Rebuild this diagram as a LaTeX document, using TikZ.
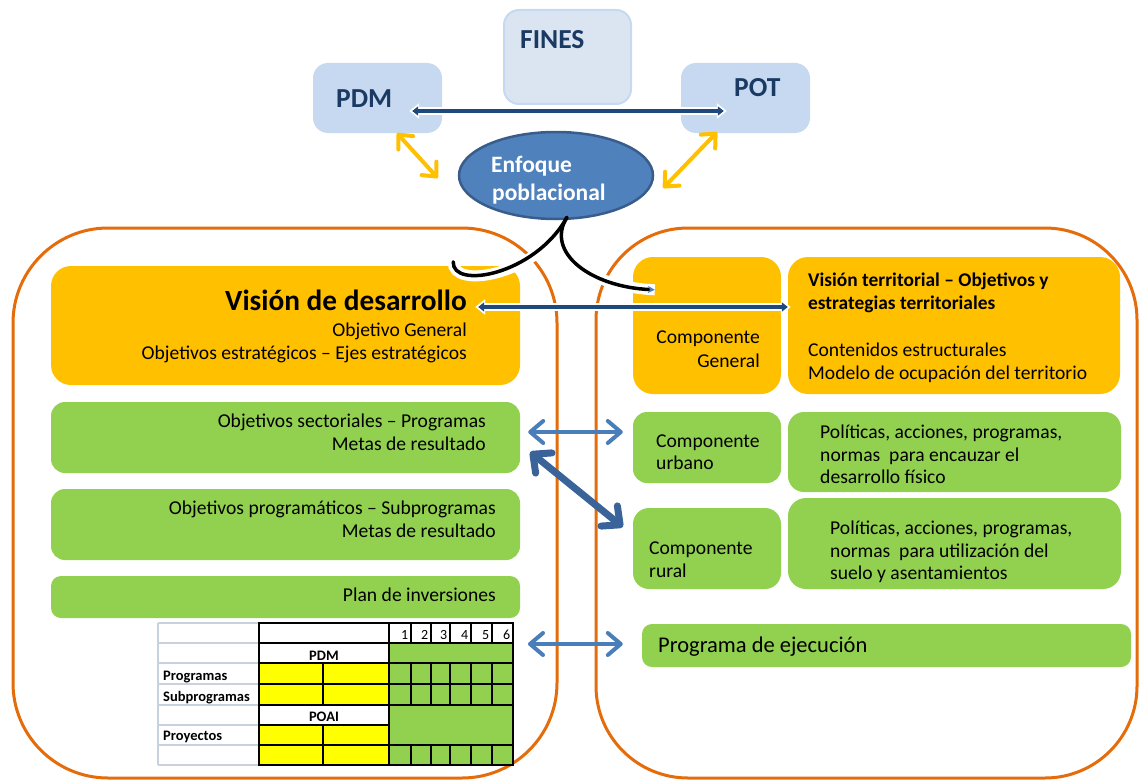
\documentclass[tikz,border=0pt]{standalone}
\usepackage{fontspec}
\setmainfont{Carlito}
\usetikzlibrary{arrows.meta,shapes.geometric}
\definecolor{orng}{HTML}{E46C0A}
\definecolor{gold}{HTML}{FFC000}
\definecolor{grn}{HTML}{92D050}
\definecolor{lblue}{HTML}{C6D9F1}
\definecolor{finesfill}{HTML}{DBE5F1}
\definecolor{ellfill}{HTML}{4F81BD}
\definecolor{elldraw}{HTML}{385D8A}
\definecolor{navy}{HTML}{1F497D}
\definecolor{arrblue}{HTML}{4A7EBB}
\definecolor{darkarr}{HTML}{3A639A}
\definecolor{txtnavy}{HTML}{1B3A63}
\definecolor{gridgray}{HTML}{C8D1DE}
\definecolor{yel}{HTML}{FFFF00}
\begin{document}
\begin{tikzpicture}[x=1pt,y=-1pt,
  ybox/.style={fill=gold, rounded corners=20pt, inner sep=0pt},
  gbox/.style={fill=grn, rounded corners=14pt, inner sep=0pt},
  bbox/.style={fill=lblue, rounded corners=15pt, inner sep=0pt},
  t/.style={inner sep=0pt, font=\fontsize{19.6}{23}\selectfont},
  tb/.style={inner sep=0pt, font=\fontsize{19.4}{23}\selectfont\bfseries},
  tabt/.style={inner sep=0pt, font=\fontsize{14}{16}\selectfont},
  tabb/.style={inner sep=0pt, font=\fontsize{14.5}{16}\selectfont\bfseries},
  bigt/.style={inner sep=0pt, text=txtnavy, font=\fontsize{27.5}{30}\selectfont\bfseries},
  bluearr/.style={draw=arrblue, line width=4pt, line cap=round,
    {Straight Barb[length=13pt,width=22pt,round]}-{Straight Barb[length=13pt,width=22pt,round]}},
  diagarr/.style={draw=darkarr, line width=7pt, line cap=round,
    {Straight Barb[length=14pt,width=26pt,round]}-{Straight Barb[length=14pt,width=26pt,round]}},
  yelarr/.style={draw=gold, line width=4pt, line cap=round,
    {Straight Barb[length=11pt,width=20pt,round]}-{Straight Barb[length=11pt,width=20pt,round]}},
  navyback/.style={draw=white, line width=8pt, shorten <=-3pt, shorten >=-3pt,
    {Triangle[length=10pt,width=15pt]}-{Triangle[length=10pt,width=15pt]}},
  navyarr/.style={draw=navy, line width=3.5pt,
    {Triangle[length=6pt,width=9pt]}-{Triangle[length=6pt,width=9pt]}},
  tline/.style={black, line width=1.6pt},
]
\useasboundingbox (0,0) rectangle (1139,781);

% orange frames
\node[draw=orng, line width=3pt, rounded corners=95pt, minimum width=544pt, minimum height=550pt, inner sep=0pt] (lframe) at (285,503) {};
\node[draw=orng, line width=3pt, rounded corners=92pt, minimum width=541pt, minimum height=550pt, inner sep=0pt] (rframe) at (866.5,503) {};

% top boxes
\node[fill=finesfill, draw=lblue, line width=2pt, rounded corners=15pt, minimum width=127pt, minimum height=94pt, inner sep=0pt] (fines) at (567.5,57) {};
\node[bigt, anchor=base west] (finest) at (520,49) {FINES};
\node[bbox, minimum width=129pt, minimum height=70pt] (pdm) at (377.5,98) {};
\node[bigt, anchor=base west] (pdmt) at (336,107) {PDM};
\node[bbox, minimum width=129pt, minimum height=70pt] (pot) at (745.5,98) {};
\node[bigt, anchor=base west] (pott) at (734,97) {POT};

\node[ellipse, fill=ellfill, draw=elldraw, line width=2.5pt, minimum width=194pt, minimum height=87pt, inner sep=0pt] (ell) at (556,175.5) {};
\node[inner sep=0pt, text=white, font=\fontsize{23.5}{28}\selectfont\bfseries, anchor=base west] (enf1) at (491,172) {Enfoque};
\node[inner sep=0pt, text=white, font=\fontsize{23.5}{28}\selectfont\bfseries, anchor=base west] (enf2) at (492,200) {poblacional};

% yellow boxes
\node[ybox, minimum width=469pt, minimum height=119pt] (vis) at (285.5,325.5) {};
\node[inner sep=0pt, font=\fontsize{29.3}{32}\selectfont\bfseries, anchor=base east] (vist) at (467,310) {Visión de desarrollo};
\node[t, anchor=base east] (vis2) at (467,336) {Objetivo General};
\node[t, anchor=base east] (vis3) at (467,359) {Objetivos estratégicos – Ejes estratégicos};

\node[ybox, minimum width=148pt, minimum height=137pt] (cgen) at (707,325.5) {};
\node[t, anchor=base east] (cgen1) at (760,343) {Componente};
\node[t, anchor=base east] (cgen2) at (760,367) {General};

\node[ybox, minimum width=332pt, minimum height=137pt] (vter) at (954,325.5) {};
\node[tb, anchor=base west] (vter1) at (808,286) {Visión territorial – Objetivos y};
\node[tb, anchor=base west] (vter2) at (808,309) {estrategias territoriales};
\node[t, anchor=base west] (vter3) at (808,356) {Contenidos estructurales};
\node[t, anchor=base west] (vter4) at (808,379) {Modelo de ocupación del territorio};

% green boxes left
\node[gbox, minimum width=469pt, minimum height=71pt] (osec) at (285.5,437.5) {};
\node[t, anchor=base east] (osec1) at (486,427) {Objetivos sectoriales – Programas};
\node[t, anchor=base east] (osec2) at (486,450) {Metas de resultado};
\node[gbox, minimum width=469pt, minimum height=71pt] (oprog) at (285.5,524.5) {};
\node[t, anchor=base east] (oprog1) at (496,514) {Objetivos programáticos – Subprogramas};
\node[t, anchor=base east] (oprog2) at (496,537) {Metas de resultado};
\node[gbox, rounded corners=10pt, minimum width=469pt, minimum height=42pt] (plan) at (285.5,597) {};
\node[t, anchor=base east] (plant) at (496,601) {Plan de inversiones};

% green boxes right
\node[gbox, minimum width=148pt, minimum height=71pt] (curb) at (707,447.5) {};
\node[t, anchor=base west] (curb1) at (656,447) {Componente};
\node[t, anchor=base west] (curb2) at (656,469) {urbano};
\node[gbox, rounded corners=16pt, minimum width=333pt, minimum height=80pt] (purb) at (954.5,452) {};
\node[t, anchor=base west] (purb1) at (820,438) {Políticas, acciones, programas,};
\node[t, anchor=base west] (purb2) at (820,461) {normas\ \ para encauzar el};
\node[t, anchor=base west] (purb3) at (820,483) {desarrollo físico};
\node[gbox, rounded corners=16pt, minimum width=148pt, minimum height=81pt] (crur) at (707,548.5) {};
\node[t, anchor=base west] (crur1) at (649,554) {Componente};
\node[t, anchor=base west] (crur2) at (649,577) {rural};
\node[gbox, rounded corners=18pt, minimum width=333pt, minimum height=91pt] (prur) at (954.5,543.5) {};
\node[t, anchor=base west] (prur1) at (830,534) {Políticas, acciones, programas,};
\node[t, anchor=base west] (prur2) at (830,557) {normas\ \ para utilización del};
\node[t, anchor=base west] (prur3) at (830,579) {suelo y asentamientos};
\node[gbox, rounded corners=10pt, minimum width=489pt, minimum height=43pt] (pej) at (886.5,645.5) {};
\node[inner sep=0pt, font=\fontsize{22.5}{26}\selectfont, anchor=base west] (pejt) at (658,652) {Programa de ejecución};

% table
\fill[white] (259,623) rectangle (513,765);
\fill[yel] (259,663) rectangle (389,705);
\fill[yel] (259,725) rectangle (389,765);
\fill[grn] (389,643) rectangle (513,765);
\foreach \yy in {623,643,663,684,705,725,745,765}
  \draw[gridgray, line width=1.5pt] (158,\yy) -- (259,\yy);
\draw[gridgray, line width=1.5pt] (158,623) -- (158,765);
\draw[tline] (259,623) rectangle (513,765);
\foreach \yy in {643,663,684,705,745}
  \draw[tline] (259,\yy) -- (513,\yy);
\draw[tline] (259,725) -- (389,725);
\draw[tline] (389,623) -- (389,765);
\draw[tline] (323,663) -- (323,705);
\draw[tline] (323,725) -- (323,765);
\foreach \xx in {411,431,450,471,492} {
  \draw[tline] (\xx,623) -- (\xx,643);
  \draw[tline] (\xx,663) -- (\xx,705);
  \draw[tline] (\xx,745) -- (\xx,765);
}
\foreach \i/\xx in {1/411,2/431,3/450,4/471,5/492,6/513}
  \node[tabt, anchor=base east] (num\i) at (\xx-2.5,639) {\i};
\node[tabb, anchor=base] (tpdm) at (324,660) {PDM};
\node[tabb, anchor=base] (tpoai) at (324,721) {POAI};
\node[tabb, anchor=base west] (tprog) at (163,680) {Programas};
\node[tabb, anchor=base west] (tsub) at (163,701) {Subprogramas};
\node[tabb, anchor=base west] (tproy) at (163,740) {Proyectos};
\coordinate (tabR) at (513,644);

% black curves from Enfoque poblacional
\draw[white, line width=11pt, shorten <=8pt] ([shift={(11,-3)}]ell.south) .. controls (535,275) and (452,290) .. ([shift={(-67,-4)}]vis.north east);
\draw[white, line width=11pt, shorten <=8pt] ([shift={(11,-3)}]ell.south) .. controls (545,252) and (590,287) .. ([shift={(22,33)}]cgen.north west);
\draw[black, line width=3.5pt, line cap=round] ([shift={(11,-3)}]ell.south) .. controls (535,275) and (452,290) .. ([shift={(-67,-4)}]vis.north east);
\draw[black, line width=3.5pt, -{Stealth[length=7pt,width=7pt,color=arrblue]}] ([shift={(11,-3)}]ell.south) .. controls (545,252) and (590,287) .. ([shift={(22,33)}]cgen.north west);

% navy double arrows
\draw[navyback] ([shift={(-30,13)}]pdm.east) -- ([shift={(43,13)}]pot.west);
\draw[navyarr] ([shift={(-30,13)}]pdm.east) -- ([shift={(43,13)}]pot.west);
\draw[navyback] ([shift={(-42,-18.5)}]vis.east) -- ([shift={(0,-18.5)}]vter.west);
\draw[navyarr] ([shift={(-42,-18.5)}]vis.east) -- ([shift={(0,-18.5)}]vter.west);

% yellow arrows
\draw[yelarr] ([shift={(19.5,0)}]pdm.south) -- ([shift={(-20,2.5)}]ell.west);
\draw[yelarr] ([shift={(-28.5,-1)}]pot.south) -- ([shift={(9,12.5)}]ell.east);

% blue arrows
\draw[bluearr] ([shift={(8,-5.5)}]osec.east) -- ([shift={(-10,-15.5)}]curb.west);
\draw[diagarr] ([shift={(10,14.5)}]osec.east) -- ([shift={(-10,-21.5)}]crur.west);
\draw[bluearr] ([xshift=15pt]tabR) -- ([shift={(-19,-1.5)}]pej.west);
\end{tikzpicture}
\end{document}
